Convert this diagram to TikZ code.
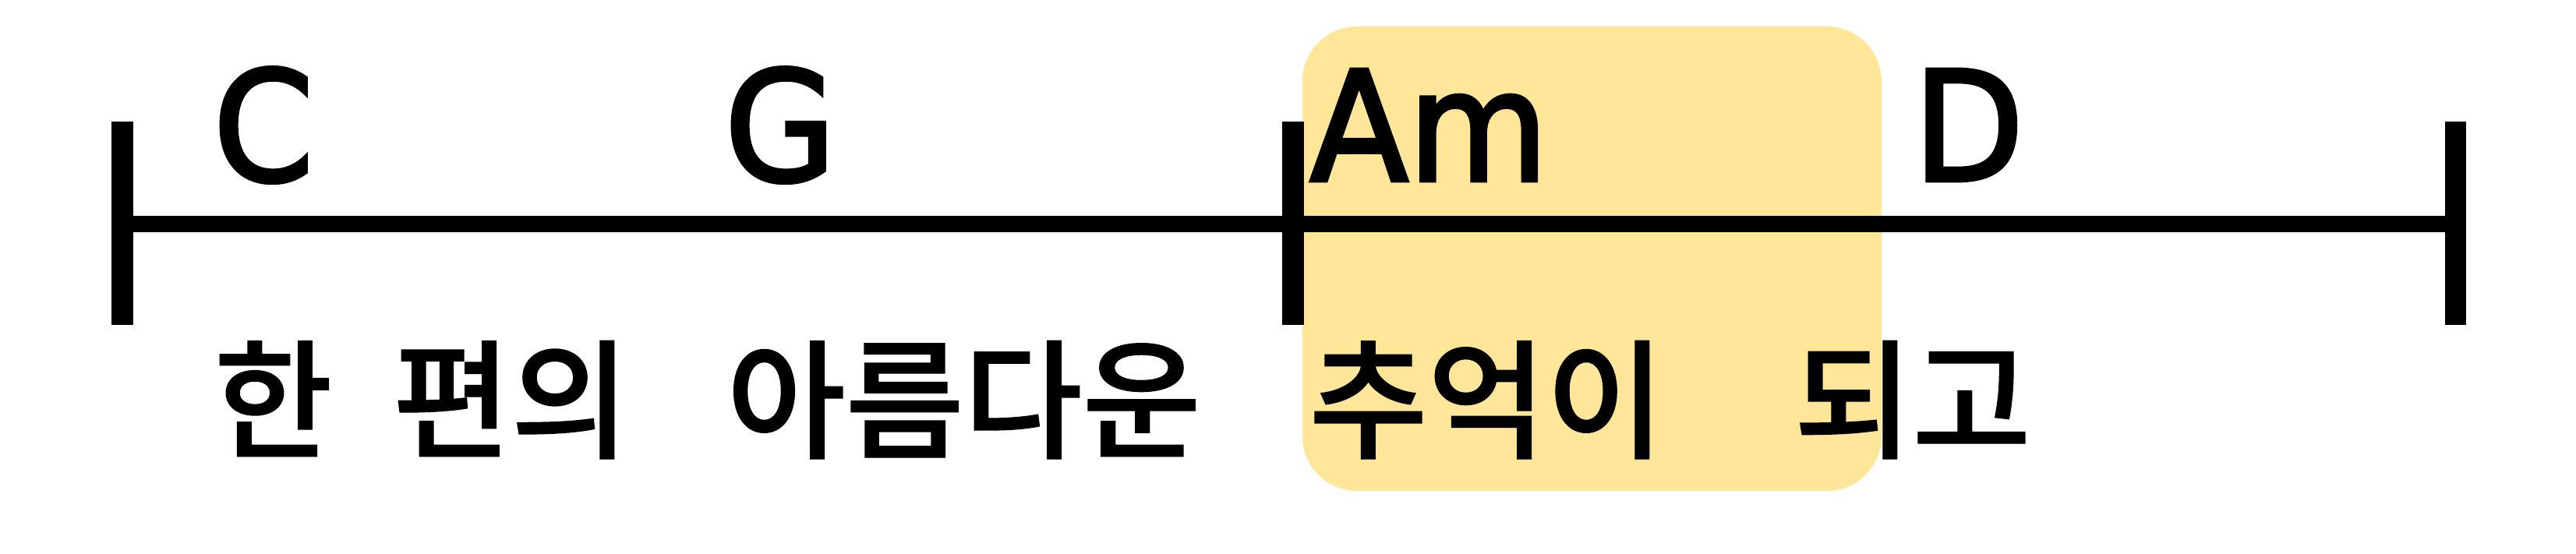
\documentclass[tikz,border=0pt]{standalone}
\usepackage{fontspec}
\newfontfamily\chordfont{DejaVu Sans}[FakeBold=2.5,FakeStretch=0.94]
\newfontfamily\krfont{Noto Sans CJK KR}[UprightFont=* Medium,FakeBold=1]
\definecolor{hilite}{HTML}{FFE699}
\tikzset{
	staff/.style={line width=6pt},
	barline/.style={line width=7.7pt},
	chord/.style={anchor=base west,inner sep=0pt,font=\chordfont\fontsize{55.8}{60}\selectfont},
	lyric/.style={anchor=base west,inner sep=0pt,font=\krfont\fontsize{47}{52}\selectfont}
}
\newcommand{\Barline}[2]{
	\coordinate (#1) at (#2,4.235);
	\draw [barline](#2,2.94)--(#2,5.55);
}
\begin{document}
\begin{tikzpicture}
	\useasboundingbox (0,0) rectangle (33.05,7.11);
	%highlight
	\fill [hilite,rounded corners=0.7cm](16.71,0.81) rectangle (24.14,6.77);
	%bars
	\foreach \name/\x in {bstart/1.57,bmid/16.59,bend/31.50}{
		\Barline{\name}{\x}
	}
	%staff
	\draw [staff](bstart)--(bend);
	%chords
	\node [chord] (cC) at (2.73,4.79) {C};
	\node [chord] (cG) at (9.29,4.79) {G};
	\node [chord] (cAm) at (16.80,4.79) {Am};
	\node [chord] (cD) at (24.54,4.79) {D};
	%lyrics
	\node [lyric] (wHan) at (2.74,1.36) {한};
	\node [lyric] (wPyeon) at (5.03,1.36) {편의};
	\node [lyric] (wAreum) at (9.32,1.36) {아름다운};
	\node [lyric] (wChueok) at (16.79,1.36) {추억이};
	\node [lyric] (wDoego) at (23.01,1.36) {되고};
\end{tikzpicture}
\end{document}
